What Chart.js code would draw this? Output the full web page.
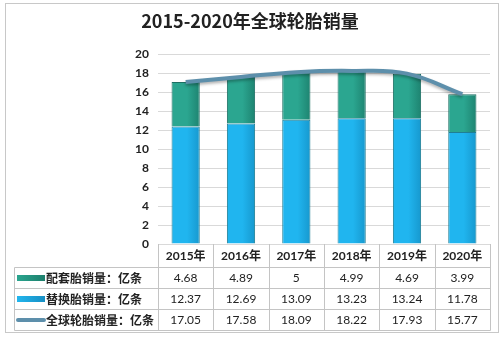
<!DOCTYPE html>
<html>
<head>
<meta charset="utf-8">
<script src="https://cdn.jsdelivr.net/npm/chart.js@4/dist/chart.umd.min.js"></script>
<style>
  html, body { margin: 0; padding: 0; background: #fff; }
  #wrap { width: 504px; height: 337px; position: relative; }
</style>
</head>
<body>
<div id="wrap"><canvas id="c" width="504" height="337"></canvas></div>
<script>
// Global tyre sales 2015-2020 (unit: 亿条)
const titleText = '2015-2020年全球轮胎销量';
const years = ['2015年', '2016年', '2017年', '2018年', '2019年', '2020年'];
const oeLabel = '配套胎销量：亿条';
const oeSales = [4.68, 4.89, 5, 4.99, 4.69, 3.99];
const replLabel = '替换胎销量：亿条';
const replSales = [12.37, 12.69, 13.09, 13.23, 13.24, 11.78];
const totalLabel = '全球轮胎销量：亿条';
const totalSales = [17.05, 17.58, 18.09, 18.22, 17.93, 15.77];
const yTicks = [0, 2, 4, 6, 8, 10, 12, 14, 16, 18, 20];

const FONT = "Lato, 'Noto Sans CJK SC', sans-serif";
const CJK = "'Noto Sans CJK SC', sans-serif";
const GRID = '#d9d9d9';
const TABLE_LINE = '#c4c4c4';

// horizontal gradient across a bar, from the bar's own x position
function barGradient(ctx, c1, c2) {
  const chart = ctx.chart;
  const xs = chart.scales.x;
  if (!chart.chartArea || !xs || ctx.dataIndex === undefined) return c1;
  const x = xs.getPixelForValue(ctx.dataIndex);
  const half = xs.width / years.length * 0.25;
  const g = chart.ctx.createLinearGradient(x - half, 0, x + half, 0);
  g.addColorStop(0, c1);
  g.addColorStop(0.55, c1);
  g.addColorStop(1, c2);
  return g;
}

const frameAndTable = {
  id: 'frameAndTable',
  beforeDraw(chart) {
    const ctx = chart.ctx;
    ctx.save();
    ctx.fillStyle = '#fff';
    ctx.fillRect(0, 0, chart.width, chart.height);
    ctx.strokeStyle = '#c8c8c8';
    ctx.lineWidth = 1;
    ctx.strokeRect(5.5, 3.5, 493, 329);
    ctx.fillStyle = '#222';
    ctx.font = "bold 18px " + CJK;
    ctx.textAlign = 'center';
    ctx.textBaseline = 'middle';
    ctx.fillText(titleText, 250, 21);
    ctx.restore();
  },
  afterDraw(chart) {
    const ctx = chart.ctx;
    const area = chart.chartArea;
    const xs = chart.scales.x;
    const colW = (area.right - area.left) / years.length;
    const tableLeft = 14.5;
    const headTop = area.bottom;
    const rowTops = [267.5, 288.5, 309.5, 330.5];
    ctx.save();
    ctx.strokeStyle = TABLE_LINE;
    ctx.lineWidth = 1;
    ctx.beginPath();
    // column separators
    for (let i = 0; i <= years.length; i++) {
      const x = Math.round(area.left + i * colW) + 0.5;
      ctx.moveTo(x, headTop);
      ctx.lineTo(x, rowTops[3]);
    }
    // row separators
    rowTops.forEach(y => { ctx.moveTo(tableLeft, y); ctx.lineTo(area.right + 0.5, y); });
    ctx.moveTo(tableLeft, rowTops[0]);
    ctx.lineTo(tableLeft, rowTops[3]);
    ctx.stroke();

    // header: years
    ctx.fillStyle = '#222';
    ctx.textAlign = 'center';
    ctx.textBaseline = 'middle';
    ctx.font = "bold 12px " + FONT;
    years.forEach((y, i) => ctx.fillText(y, xs.getPixelForValue(i), 256));

    // data rows
    const rows = [
      { label: oeLabel, values: oeSales, key: 'oe' },
      { label: replLabel, values: replSales, key: 'repl' },
      { label: totalLabel, values: totalSales, key: 'total' }
    ];
    rows.forEach((r, ri) => {
      const cy = (rowTops[ri] + rowTops[ri + 1]) / 2;
      // legend key
      if (r.key === 'total') {
        ctx.strokeStyle = '#5d8fab';
        ctx.lineWidth = 4;
        ctx.lineCap = 'round';
        ctx.beginPath();
        ctx.moveTo(18, cy);
        ctx.lineTo(44, cy);
        ctx.stroke();
      } else {
        const g = ctx.createLinearGradient(17, 0, 45, 0);
        if (r.key === 'oe') { g.addColorStop(0, '#2aa58f'); g.addColorStop(1, '#1c7f6c'); }
        else { g.addColorStop(0, '#22b6ee'); g.addColorStop(1, '#178fc4'); }
        ctx.fillStyle = g;
        ctx.fillRect(17, cy - 3, 28, 6);
      }
      ctx.fillStyle = '#222';
      ctx.textAlign = 'left';
      ctx.font = "bold 12px " + CJK;
      ctx.fillText(r.label, 46, cy);
      ctx.textAlign = 'center';
      ctx.font = "12px " + FONT;
      r.values.forEach((v, i) => ctx.fillText(String(v), xs.getPixelForValue(i), cy));
    });
    ctx.restore();
  }
};

// soft shadow under the total line
const lineShadow = {
  id: 'lineShadow',
  beforeDatasetDraw(chart, args) {
    if (chart.data.datasets[args.index].type === 'line') {
      chart.ctx.save();
      chart.ctx.shadowColor = 'rgba(0,0,0,0.3)';
      chart.ctx.shadowBlur = 3;
      chart.ctx.shadowOffsetY = 2;
    }
  },
  afterDatasetDraw(chart, args) {
    if (chart.data.datasets[args.index].type === 'line') chart.ctx.restore();
  }
};

new Chart(document.getElementById('c'), {
  data: {
    labels: years,
    datasets: [
      {
        type: 'line',
        label: totalLabel,
        data: totalSales,
        borderColor: '#5d8fab',
        borderWidth: 4,
        tension: 0.4,
        pointRadius: 0,
        fill: false,
        stack: 'total',
        order: 0
      },
      {
        type: 'bar',
        label: replLabel,
        data: replSales,
        backgroundColor: c => barGradient(c, '#20b5ef', '#1799cf'),
        borderColor: '#1f7f95',
        borderWidth: 1,
        stack: 's',
        order: 1,
        categoryPercentage: 1,
        barPercentage: 0.51
      },
      {
        type: 'bar',
        label: oeLabel,
        data: oeSales,
        backgroundColor: c => barGradient(c, '#2ba690', '#1e8471'),
        borderColor: '#1d6f63',
        borderWidth: 1,
        stack: 's',
        order: 1,
        categoryPercentage: 1,
        barPercentage: 0.51
      }
    ]
  },
  options: {
    responsive: false,
    animation: false,
    layout: { padding: { left: 0, top: 54, right: 14, bottom: 93 } },
    plugins: { legend: { display: false }, tooltip: { enabled: false }, title: { display: false } },
    scales: {
      x: {
        stacked: true,
        display: false
      },
      y: {
        stacked: true,
        min: 0,
        max: 20,
        afterFit(scale) { scale.width = 158; },
        afterBuildTicks(scale) { scale.ticks = yTicks.map(v => ({ value: v })); },
        border: { display: false },
        grid: { color: GRID, drawTicks: false },
        ticks: {
          padding: 9,
          color: '#222',
          font: { family: FONT, size: 12, weight: 'bold' }
        }
      }
    }
  },
  plugins: [frameAndTable, lineShadow]
});
</script>
</body>
</html>
